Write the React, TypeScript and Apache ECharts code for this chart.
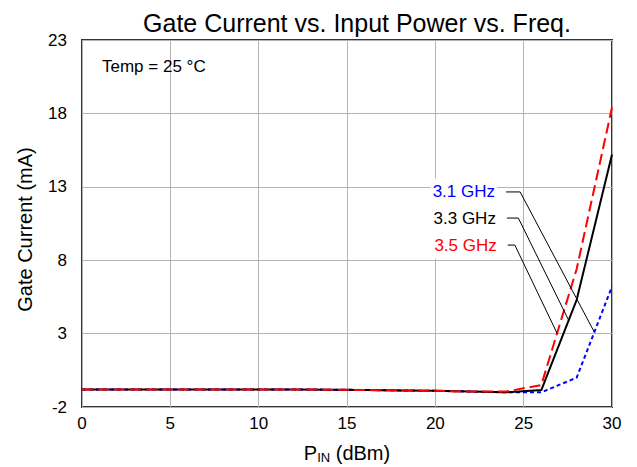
import React, { useEffect, useRef } from "react";
import * as echarts from "echarts";

const pinDbm = [0, 2, 4, 6, 8, 10, 12, 14, 16, 18, 20, 22, 24, 26, 28, 30];
const gate31 = [-0.8, -0.8, -0.8, -0.8, -0.8, -0.8, -0.8, -0.82, -0.84, -0.87, -0.9, -0.95, -1.0, -1.0, 0.0, 6.2];
const gate33 = [-0.8, -0.8, -0.8, -0.8, -0.8, -0.8, -0.8, -0.82, -0.84, -0.87, -0.9, -0.95, -1.0, -0.85, 5.3, 15.2];
const gate35 = [-0.8, -0.8, -0.8, -0.8, -0.8, -0.8, -0.8, -0.82, -0.84, -0.87, -0.9, -0.95, -0.95, -0.5, 7.4, 18.4];
const seriesNames = ["3.1 GHz", "3.3 GHz", "3.5 GHz"];
const seriesColors = ["#0000ff", "#000000", "#ff0000"];
const yTicks = [-2, 3, 8, 13, 18, 23];
const xTicks = [0, 5, 10, 15, 20, 25, 30];
// leader lines: [label end point, elbow, point on curve] in data units
const leaders = [
  [[24.0, 12.65], [24.8, 12.65], [29.0, 3.1]],
  [[24.05, 10.87], [24.7, 10.87], [27.55, 3.9]],
  [[24.1, 9.03], [24.5, 9.03], [26.9, 3.0]],
];

const FONT = "'Liberation Sans', Arial, sans-serif";

export default function App() {
  const ref = useRef<HTMLDivElement>(null);
  useEffect(() => {
    if (!ref.current) return;
    const chart = echarts.init(ref.current, undefined, { renderer: "svg" });
    const mk = (vals: number[]) => pinDbm.map((x, i) => [x, vals[i]]);
    const option: any = {
      animation: false,
      backgroundColor: "#ffffff",
      textStyle: { fontFamily: FONT },
      title: {
        text: "Gate Current vs. Input Power vs. Freq.",
        left: 352,
        textAlign: "center",
        top: 5,
        textStyle: { fontFamily: FONT, fontSize: 25, fontWeight: "normal", color: "#000" },
      },
      grid: {
        left: 82,
        right: 25,
        top: 40,
        bottom: 60,
        outerBoundsMode: "none",
        containLabel: false,
        show: true,
        borderColor: "#333333",
        borderWidth: 2,
        backgroundColor: "transparent",
      },
      xAxis: {
        type: "value",
        min: xTicks[0],
        max: xTicks[xTicks.length - 1],
        interval: 5,
        axisLine: { show: false },
        axisTick: { show: false },
        splitLine: { show: true, lineStyle: { color: "#b4b4b4", width: 1 } },
        axisLabel: { fontFamily: FONT, fontSize: 17, color: "#000", margin: 8 },
        name: "{p|P}{s|IN}{p| (dBm)}",
        nameLocation: "middle",
        nameGap: 34,
        nameTextStyle: {
          rich: {
            p: { fontFamily: FONT, fontSize: 20, color: "#000" },
            s: { fontFamily: FONT, fontSize: 13, color: "#000", verticalAlign: "bottom", padding: [10, 0, 0, 0] },
          },
        },
      },
      yAxis: {
        type: "value",
        min: yTicks[0],
        max: yTicks[yTicks.length - 1],
        interval: 5,
        axisLine: { show: false },
        axisTick: { show: false },
        splitLine: { show: true, lineStyle: { color: "#b4b4b4", width: 1 } },
        axisLabel: { fontFamily: FONT, fontSize: 17, color: "#000", margin: 15 },
        name: "Gate Current (mA)",
        nameLocation: "middle",
        nameGap: 47,
        nameTextStyle: { fontFamily: FONT, fontSize: 20, color: "#000", padding: [0, 12, 0, 0] },
      },
      series: [
        {
          name: seriesNames[0],
          type: "line",
          data: mk(gate31),
          showSymbol: false,
          z: 3,
          lineStyle: { color: seriesColors[0], width: 2, type: [4, 3] },
        },
        {
          name: seriesNames[1],
          type: "line",
          data: mk(gate33),
          showSymbol: false,
          z: 4,
          lineStyle: { color: seriesColors[1], width: 2, type: "solid" },
        },
        {
          name: seriesNames[2],
          type: "line",
          data: mk(gate35),
          showSymbol: false,
          z: 5,
          lineStyle: { color: seriesColors[2], width: 2, type: [11, 5] },
        },
      ],
    };
    chart.setOption(option);

    const px = (p: number[]) => chart.convertToPixel({ gridIndex: 0 }, p) as number[];
    const graphics: any[] = [
      {
        type: "text",
        x: 102,
        y: 66,
        style: { text: "Temp = 25 °C", fontFamily: FONT, fontSize: 17, fill: "#000", textVerticalAlign: "middle" },
        z: 10,
      },
    ];
    leaders.forEach((pts, i) => {
      const pp = pts.map(px);
      graphics.push({
        type: "polyline",
        shape: { points: pp },
        style: { stroke: "#000", lineWidth: 1, fill: null },
        z: 10,
      });
      graphics.push({
        type: "text",
        x: pp[0][0] - 9,
        y: pp[0][1],
        style: {
          text: seriesNames[i],
          fontFamily: FONT,
          fontSize: 17,
          fill: seriesColors[i],
          textAlign: "right",
          textVerticalAlign: "middle",
          backgroundColor: "#ffffff",
          padding: [5, 2],
        },
        z: 10,
      });
    });
    chart.setOption({ graphic: graphics });
    return () => chart.dispose();
  }, []);
  return (
    <div
      ref={ref}
      style={{ position: "fixed", left: 0, top: 0, width: 637, height: 467 }}
    />
  );
}
